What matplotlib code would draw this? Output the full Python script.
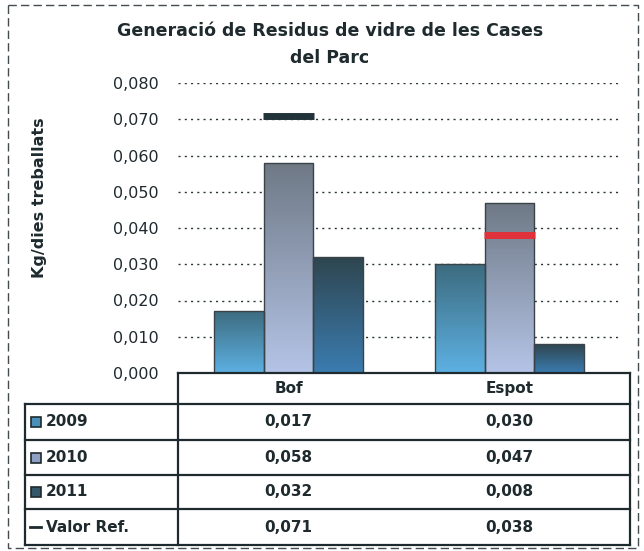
import numpy as np
import matplotlib
matplotlib.use("Agg")
import matplotlib.pyplot as plt
from matplotlib.patches import Rectangle
from matplotlib.colors import LinearSegmentedColormap
from matplotlib import transforms
from matplotlib.ticker import FuncFormatter

plt.rcParams["font.family"] = ["DejaVu Sans"]

# Dades
categories = ["Bof", "Espot"]
series_names = ["2009", "2010", "2011"]
v2009 = [0.017, 0.030]
v2010 = [0.058, 0.047]
v2011 = [0.032, 0.008]
valor_ref = [0.071, 0.038]
yticks = [0.000, 0.010, 0.020, 0.030, 0.040, 0.050, 0.060, 0.070, 0.080]

series_values = [v2009, v2010, v2011]
# gradient colours (top, bottom) for each year
grad_colors = [("#3d6c80", "#5db0e2"),
               ("#6f7986", "#b4c4e6"),
               ("#2f4650", "#3b7cb0")]
key_colors = ["#4a90b8", "#8f9fc4", "#34586a"]
ref_colors = ["#22343a", "#e0323a"]
txt_color = "#1e2a2e"

W, H = 644, 551
fig = plt.figure(figsize=(W / 100, H / 100), dpi=100)


def fx(px):
    return px / W


def fy(py):
    return 1 - py / H


ax_left, ax_right, ax_top, ax_bottom = 178, 620, 83, 373
ax = fig.add_axes([fx(ax_left), fy(ax_bottom), fx(ax_right - ax_left), (ax_bottom - ax_top) / H])

x = np.arange(len(categories))
bw = 0.225
for i, vals in enumerate(series_values):
    cmap = LinearSegmentedColormap.from_list(f"g{i}", [grad_colors[i][1], grad_colors[i][0]])
    bars = ax.bar(x + (i - 1) * bw, vals, bw, color="none", edgecolor="#3a4448",
                  linewidth=1.0, zorder=3)
    for b in bars:
        x0, y0 = b.get_x(), b.get_y()
        w, h = b.get_width(), b.get_height()
        grad = np.linspace(0, 1, 100).reshape(-1, 1)
        im = ax.imshow(grad, cmap=cmap, origin="lower", aspect="auto",
                       extent=[x0, x0 + w, y0, y0 + h], zorder=2)
        im.set_clip_path(b)

# Valor Ref. as short dashes
ax.scatter(x, valor_ref, marker="_", s=37 ** 2, linewidths=5, c=ref_colors, zorder=4)

ax.set_xlim(-0.5, 1.5)
ax.set_ylim(0, 0.08)
ax.set_yticks(yticks)
ax.yaxis.set_major_formatter(FuncFormatter(lambda v, p: f"{v:.3f}".replace(".", ",")))
ax.tick_params(axis="y", length=0, pad=14, labelsize=11.5, labelcolor=txt_color)
ax.set_xticks([])
for s in ax.spines.values():
    s.set_visible(False)
for t in yticks[1:]:
    ax.axhline(t, color="#2a3538", linestyle=(0, (1.5, 3)), linewidth=1.0, zorder=1)
ax.set_facecolor("white")

# Titles
fig.text(fx(330), fy(31), "Generació de Residus de vidre de les Cases", ha="center",
         va="center", fontsize=12.5, fontweight="bold", color=txt_color)
fig.text(fx(330), fy(58), "del Parc", ha="center", va="center", fontsize=12.5,
         fontweight="bold", color=txt_color)
fig.text(fx(40), fy(198), "Kg/dies treballats", rotation=90, ha="center", va="center",
         fontsize=11.5, fontweight="bold", color=txt_color)

# Data table
tax = fig.add_axes([0, 0, 1, 1], facecolor="none")
tax.set_xlim(0, W)
tax.set_ylim(H, 0)
tax.axis("off")
line_kw = dict(color=txt_color, linewidth=1.6)
tbl_left, tbl_right = 25, 630
row_edges = [373, 404, 440, 475, 509, 545]
tax.plot([ax_left, tbl_right], [row_edges[0]] * 2, **line_kw)
for yy in row_edges[1:]:
    tax.plot([tbl_left, tbl_right], [yy] * 2, **line_kw)
tax.plot([ax_left, ax_left], [row_edges[0], row_edges[-1]], **line_kw)
tax.plot([tbl_right, tbl_right], [row_edges[0], row_edges[-1]], **line_kw)
tax.plot([tbl_left, tbl_left], [row_edges[1], row_edges[-1]], **line_kw)

# column texts aligned with category centres of the chart
blend = transforms.blended_transform_factory(ax.transData, tax.transData)
for j, cat in enumerate(categories):
    tax.text(x[j], (row_edges[0] + row_edges[1]) / 2, cat, transform=blend, ha="center",
             va="center", fontsize=11, fontweight="bold", color=txt_color)

row_labels = series_names + ["Valor Ref."]
row_vals = series_values + [valor_ref]
for r, (lab, vals) in enumerate(zip(row_labels, row_vals)):
    yc = (row_edges[r + 1] + row_edges[r + 2]) / 2
    if r < 3:
        tax.add_patch(Rectangle((31, yc - 5), 10, 10, facecolor=key_colors[r],
                                edgecolor=txt_color, linewidth=1.2))
    else:
        tax.plot([30, 41], [yc, yc], color=txt_color, linewidth=2)
    tax.text(46, yc, lab, ha="left", va="center", fontsize=11, fontweight="bold",
             color=txt_color)
    for j, v in enumerate(vals):
        tax.text(x[j], yc, f"{v:.3f}".replace(".", ","), transform=blend, ha="center",
                 va="center", fontsize=11, fontweight="bold", color=txt_color)

# chart area border
tax.add_patch(Rectangle((8, 5), W - 14, H - 8, facecolor="none", edgecolor="#444c50",
                        linewidth=1.0, linestyle=(0, (6, 3))))

fig.savefig("out.png", dpi=100)
